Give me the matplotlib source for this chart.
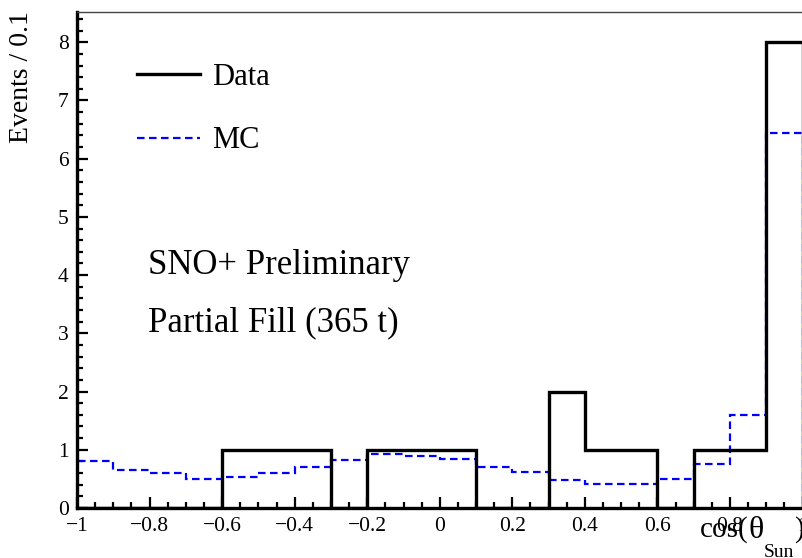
import numpy as np
import matplotlib
matplotlib.use("Agg")
import matplotlib.pyplot as plt
from matplotlib.ticker import MultipleLocator
from matplotlib.lines import Line2D

plt.rcParams['font.family'] = ['Liberation Serif', 'DejaVu Serif']

# Bin edges for cos(theta_sun)
edges = np.round(np.linspace(-1.0, 1.0, 21), 2)
data_counts = [0, 0, 0, 0, 1, 1, 1, 0, 1, 1, 1, 0, 0, 2, 1, 1, 0, 1, 1, 8]
mc_counts = [0.81, 0.66, 0.60, 0.50, 0.53, 0.60, 0.71, 0.82, 0.92, 0.89,
             0.85, 0.70, 0.61, 0.48, 0.41, 0.42, 0.50, 0.76, 1.60, 6.45]
x_ticks = [-1, -0.8, -0.6, -0.4, -0.2, 0, 0.2, 0.4, 0.6, 0.8, 1]
x_tick_labels = ['\u22121', '\u22120.8', '\u22120.6', '\u22120.4', '\u22120.2', '0',
                 '0.2', '0.4', '0.6', '0.8', '1']
y_ticks = [0, 1, 2, 3, 4, 5, 6, 7, 8]

W, H = 803, 558
fig = plt.figure(figsize=(W / 100, H / 100), dpi=100)
ax = fig.add_axes([77 / W, 1 - 508 / H, 726 / W - 0.0005, 496 / H])

mc_style = dict(color='blue', lw=1.6, ls=(0, (3.4, 2.0)))
data_style = dict(color='black', lw=2.4)
ax.stairs(mc_counts, edges, zorder=2, **mc_style)
ax.stairs(data_counts, edges, zorder=3, **data_style)

ax.set_xlim(-1, 1)
ax.set_ylim(0, 8.52)
ax.set_xticks(x_ticks)
ax.set_xticklabels(x_tick_labels)
ax.set_yticks(y_ticks)
ax.xaxis.set_minor_locator(MultipleLocator(0.05))
ax.yaxis.set_minor_locator(MultipleLocator(0.2))
ax.tick_params(axis='both', which='both', direction='in', top=False, right=False,
               labelsize=15.5, width=1.6)
ax.tick_params(axis='both', which='major', length=8)
ax.tick_params(axis='both', which='minor', length=4)
ax.tick_params(axis='x', pad=6.5)
ax.tick_params(axis='y', pad=6)

for s in ['left', 'bottom']:
    ax.spines[s].set_linewidth(2.4)
ax.spines['top'].set_linewidth(1.0)
ax.spines['top'].set_color('#444444')
ax.spines['right'].set_visible(False)

# Axis titles (ROOT style, aligned to the axis ends)
fig.text(22 / W, 1 - 11 / H, 'Events / 0.1', rotation=90, ha='center', va='top', fontsize=20)

# x title: cos(theta_Sun) built from main text, lowered subscript, closing bracket
renderer = fig.canvas.get_renderer()
t1 = fig.text(700 / W, 1 - 537 / H, 'cos(', ha='left', va='baseline', fontsize=21)
bb1 = t1.get_window_extent(renderer)
t1b = fig.text(bb1.x1 / W, 1 - 538 / H, '\u03b8', ha='left', va='baseline', fontsize=23)
bb1b = t1b.get_window_extent(renderer)
t2 = fig.text(bb1b.x1 / W, 1 - 557 / H, 'Sun', ha='left', va='baseline', fontsize=14)
bb2 = t2.get_window_extent(renderer)
fig.text(bb2.x1 / W + 1 / W, 1 - 537 / H, ')', ha='left', va='baseline', fontsize=21)

h_data = Line2D([], [], **data_style)
h_mc = Line2D([], [], **mc_style)
ax.legend([h_data, h_mc], ['Data', 'MC'], loc='upper left',
          bbox_to_anchor=((137 - 77) / 726, (508 - 63) / 496), frameon=False, fontsize=22,
          handlelength=2.06, handletextpad=0.4, labelspacing=1.12, borderpad=0,
          borderaxespad=0)

tx = (148 - 77) / 726
ax.text(tx, (508 - 265) / 496, 'SNO+ Preliminary',
        transform=ax.transAxes, fontsize=25, va='center', ha='left')
ax.text(tx, (508 - 323) / 496, 'Partial Fill (365 t)',
        transform=ax.transAxes, fontsize=25, va='center', ha='left')

fig.savefig('out.png', dpi=100)
